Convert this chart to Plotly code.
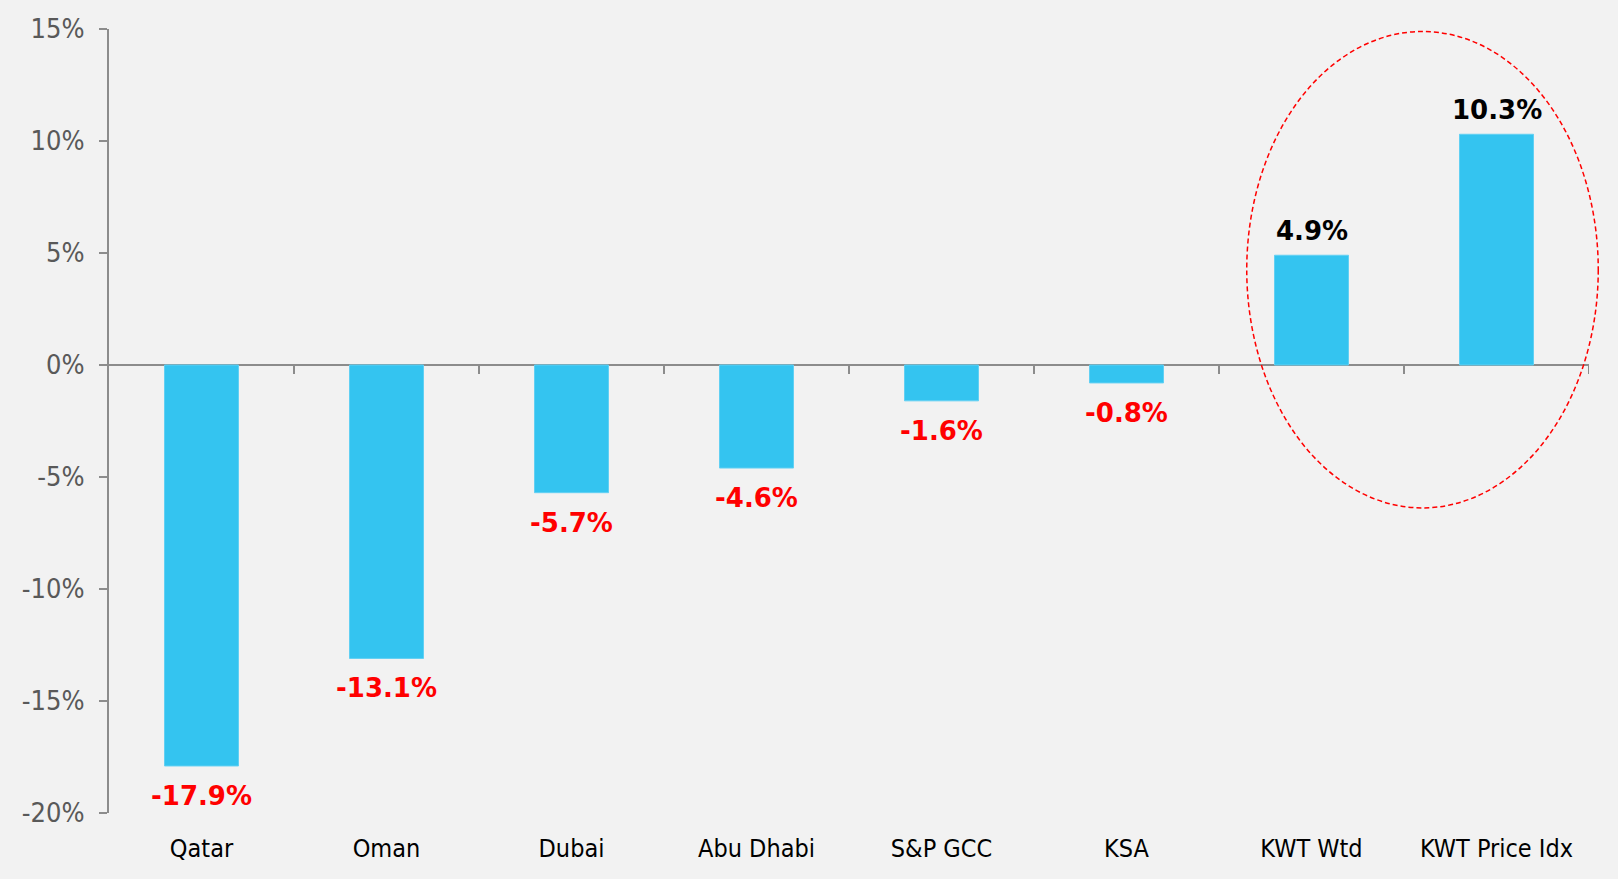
import plotly.graph_objects as go

categories = ["Qatar", "Oman", "Dubai", "Abu Dhabi", "S&P GCC", "KSA", "KWT Wtd", "KWT Price Idx"]
values = [-17.9, -13.1, -5.7, -4.6, -1.6, -0.8, 4.9, 10.3]
y_ticks = [15, 10, 5, 0, -5, -10, -15, -20]
y_tick_labels = ["15%", "10%", "5%", "0%", "-5%", "-10%", "-15%", "-20%"]

Y_MIN, Y_MAX = -20, 15
FONT = "DejaVu Sans Condensed, Tahoma, DejaVu Sans, sans-serif"
BOLD_FONT = "DejaVu Sans, Verdana, sans-serif"
BG = "#F2F2F2"
AXIS = "#8C8C8C"

n = len(categories)

fig = go.Figure()
fig.add_trace(go.Bar(
    x=list(range(n)),
    y=values,
    marker=dict(color="#34C4F0", line=dict(color="#62D0F3", width=1)),
    width=0.4,
    hoverinfo="skip",
))

annotations = []
for i, v in enumerate(values):
    neg = v < 0
    annotations.append(dict(
        x=i, y=v, xref="x", yref="y",
        text=f"<b>{v:.1f}%</b>",
        showarrow=False,
        yanchor="top" if neg else "bottom",
        yshift=-13 if neg else 7,
        font=dict(family=BOLD_FONT, size=26, color="#FF0000" if neg else "#000000"),
    ))

shapes = []
# category boundary ticks on the zero line
for i in range(n):
    shapes.append(dict(
        type="line", xref="x", yref="y",
        x0=i + 0.5, x1=i + 0.5, y0=0, y1=-0.4,
        line=dict(color=AXIS, width=2),
    ))

# highlight ellipse around the Kuwait bars (paper refs so it is not clipped)
def xp(xv):
    return (xv + 0.5) / n

def yp(yv):
    return (yv - Y_MIN) / (Y_MAX - Y_MIN)

shapes.append(dict(
    type="circle", xref="paper", yref="paper",
    x0=xp(5.65), x1=xp(7.55), y0=yp(-6.38), y1=yp(14.89),
    line=dict(color="#FF0000", width=1.5, dash="5px,3px"),
    fillcolor="rgba(0,0,0,0)",
))

fig.update_layout(
    width=1618, height=879,
    paper_bgcolor=BG, plot_bgcolor=BG,
    margin=dict(l=109, r=29, t=29, b=66),
    showlegend=False,
    annotations=annotations,
    shapes=shapes,
    xaxis=dict(
        range=[-0.5, n - 0.5],
        tickmode="array",
        tickvals=list(range(n)),
        ticktext=categories,
        showline=False, showgrid=False, zeroline=False,
        ticks="",
        ticklabelstandoff=18,
        tickfont=dict(family=FONT, size=25, color="#000000"),
    ),
    yaxis=dict(
        range=[Y_MIN, Y_MAX],
        tickmode="array",
        tickvals=y_ticks,
        ticktext=y_tick_labels,
        showline=True, linecolor=AXIS, linewidth=2,
        ticks="outside", ticklen=8, tickcolor=AXIS, tickwidth=2,
        showgrid=False,
        zeroline=True, zerolinecolor=AXIS, zerolinewidth=2,
        tickfont=dict(family=FONT, size=27, color="#595959"),
        ticklabelstandoff=9,
    ),
)

fig.write_html(
    "out.html",
    config={"displayModeBar": False},
    post_script="document.body.style.margin='0';document.body.style.padding='0';",
)
